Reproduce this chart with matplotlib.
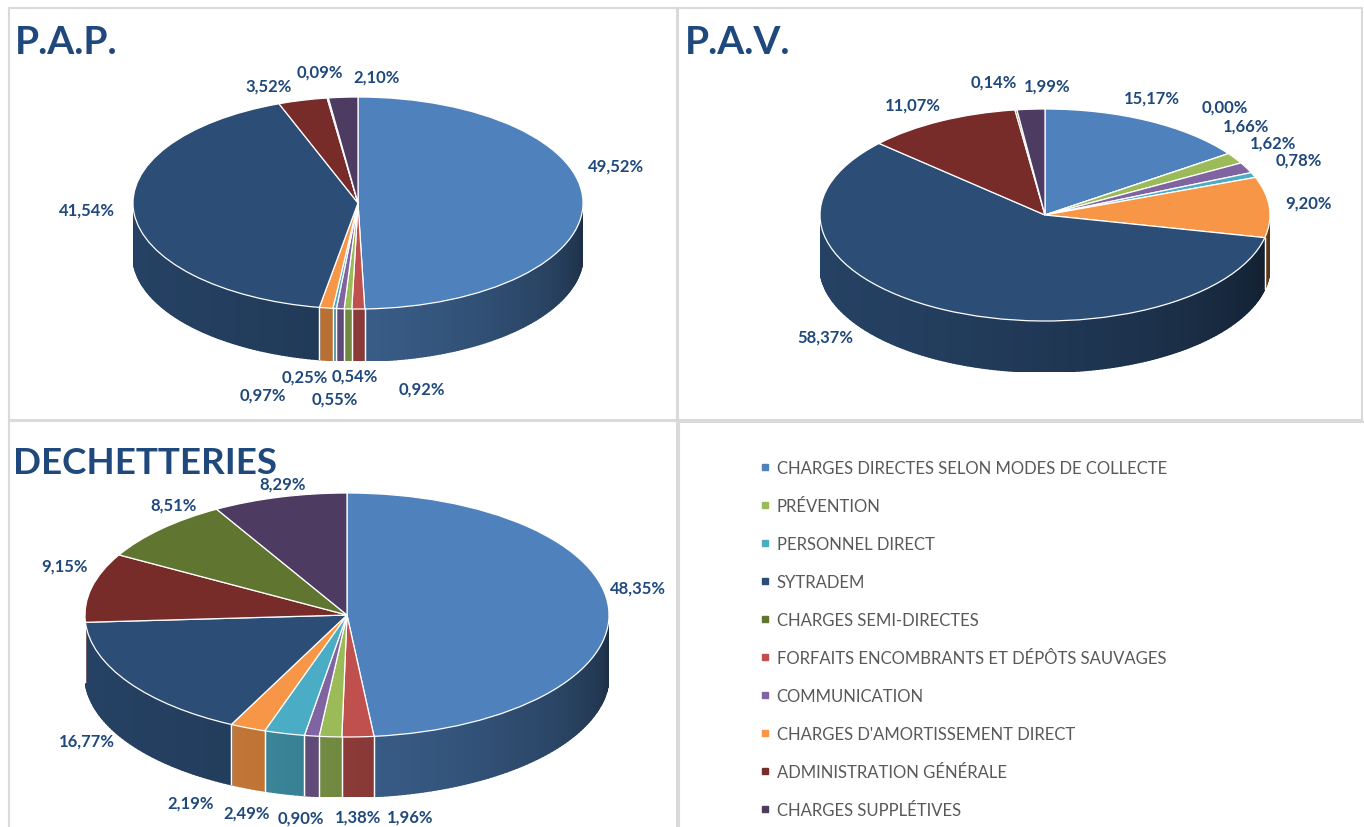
import numpy as np
import matplotlib
matplotlib.use('Agg')
import matplotlib.pyplot as plt
from matplotlib.collections import PolyCollection
from matplotlib.colors import to_rgb
from matplotlib.lines import Line2D
from matplotlib.patches import Rectangle

plt.rcParams['font.family'] = ['Lato', 'DejaVu Sans']

W, H = 1364, 828

# categories in legend order
categories = ['CHARGES DIRECTES SELON MODES DE COLLECTE', 'PRÉVENTION', 'PERSONNEL DIRECT',
              'SYTRADEM', 'CHARGES SEMI-DIRECTES', 'FORFAITS ENCOMBRANTS ET DÉPÔTS SAUVAGES',
              'COMMUNICATION', "CHARGES D'AMORTISSEMENT DIRECT", 'ADMINISTRATION GÉNÉRALE',
              'CHARGES SUPPLÉTIVES']
colors = ['#4F81BD', '#9BBB59', '#4BACC6', '#2C4D75', '#5F7530',
          '#C0504D', '#8064A2', '#F79646', '#772C2A', '#4D3B62']
# order of the slices in the pies (clockwise from 12 o'clock)
pie_order = [0, 5, 1, 6, 2, 7, 3, 8, 4, 9]

# percentages, legend order
pap_values = [49.52, 0.54, 0.25, 41.54, 0.09, 0.92, 0.55, 0.97, 3.52, 2.10]
pav_values = [15.17, 1.66, 0.78, 58.37, 0.14, 0.00, 1.62, 9.20, 11.07, 1.99]
dech_values = [48.35, 1.38, 2.49, 16.77, 8.51, 1.96, 0.90, 2.19, 9.15, 8.29]

# label nudges (pixels) in pie order
pap_lbl_off = [(33, 36), (64, -28), (7, -15), (-5, -38), (-30, -16), (-63, -35),
               (-47, 8), (-34, 15), (-8, 26), (33, 21)]
pav_lbl_off = [(4, 23), (-4, 47), (11, 33), (27, 25), (45, 15), (39, 5),
               (-116, 18), (-28, 17), (-22, 28), (16, 24)]
dech_lbl_off = [(29, 21), (52, -20), (28, -20), (-11, -22), (-38, -21), (-57, -19),
                (-42, -25), (-27, 22), (12, 24), (3, 14)]

TITLE_COL = '#1F497D'


def shade(col, ang):
    t = ((ang % 360) - 180) / 180.0
    f = 0.85 - 0.5 * t ** 2.0
    return tuple(c * f for c in to_rgb(col))


def draw_pie(cx, cy, rx, ry, depth, values, offsets):
    h = depth / ry
    ax = fig.add_axes([(cx - rx) / W, 1 - (cy + ry + depth) / H, 2 * rx / W, (2 * ry + depth) / H])
    vals = [values[i] for i in pie_order]
    cols = [colors[i] for i in pie_order]
    wedges, _ = ax.pie(vals, colors=cols, startangle=90, counterclock=False,
                       wedgeprops=dict(edgecolor='white', linewidth=0.9, zorder=3))
    ax.set_aspect('auto')
    ax.set_xlim(-1, 1)
    ax.set_ylim(-1 - h, 1)
    ax.axis('off')

    # side wall of the cylinder, front half only
    polys, fcs = [], []
    for w, c in zip(wedges, cols):
        t1, t2 = w.theta1, w.theta2
        for k in (-1, 0, 1):
            lo, hi = max(t1, 180 + 360 * k), min(t2, 360 + 360 * k)
            if hi <= lo:
                continue
            a = np.radians(np.linspace(lo, hi, int(hi - lo) + 2))
            for a0, a1 in zip(a[:-1], a[1:]):
                polys.append([(np.cos(a0), np.sin(a0)), (np.cos(a1), np.sin(a1)),
                              (np.cos(a1), np.sin(a1) - h), (np.cos(a0), np.sin(a0) - h)])
                fcs.append(shade(c, np.degrees((a0 + a1) / 2)))
    ax.add_collection(PolyCollection(polys, facecolors=fcs, edgecolors=fcs, linewidths=1.3, zorder=1))
    for w in wedges:
        for t in (w.theta1, w.theta2):
            if np.sin(np.radians(t)) < -0.01:
                x, y = np.cos(np.radians(t)), np.sin(np.radians(t))
                ax.plot([x, x], [y, y - h], color='white', lw=0.9, zorder=2)

    for w, v, off in zip(wedges, vals, offsets):
        m = np.radians((w.theta1 + w.theta2) / 2)
        x, y = np.cos(m), np.sin(m)
        y -= h * max(0, -y)
        ax.annotate(f'{v:.2f}%'.replace('.', ','), (x, y), xytext=off, textcoords='offset pixels',
                    ha='center', va='center', fontsize=12, fontweight='bold', color=TITLE_COL,
                    annotation_clip=False)
    return ax


fig = plt.figure(figsize=(W / 100, H / 100), dpi=100)

# panel frames
for x0, y0, x1, y1 in [(9, 9, 677, 421), (678, 9, 1362, 421), (9, 422, 677, 840), (679, 423, 1370, 840)]:
    fig.add_artist(Rectangle((x0 / W, 1 - y1 / H), (x1 - x0) / W, (y1 - y0) / H, transform=fig.transFigure,
                             fill=False, edgecolor='#DADADA', lw=1.5))

draw_pie(358, 204, 225, 106, 52, pap_values, pap_lbl_off)
draw_pie(1045, 216, 225, 106, 51, pav_values, pav_lbl_off)
draw_pie(347, 616, 262, 122, 60, dech_values, dech_lbl_off)

fig.text(15 / W, 1 - 54 / H, 'P.A.P.', fontsize=28, fontweight='bold', color=TITLE_COL, va='baseline')
fig.text(685 / W, 1 - 54 / H, 'P.A.V.', fontsize=28, fontweight='bold', color=TITLE_COL, va='baseline')
fig.text(13 / W, 1 - 474 / H, 'DECHETTERIES', fontsize=26.5, fontweight='bold', color=TITLE_COL,
         va='baseline')

handles = [Line2D([], [], marker='s', ls='', color=c, markersize=4.5) for c in colors]
fig.legend(handles, categories, loc='upper left', bbox_to_anchor=(760 / W, 1 - 461 / H),
           frameon=False, fontsize=12, labelspacing=1.32, handlelength=0.6, handletextpad=0.4,
           borderpad=0, borderaxespad=0, labelcolor='#595959')

fig.savefig('out.png', dpi=100)
